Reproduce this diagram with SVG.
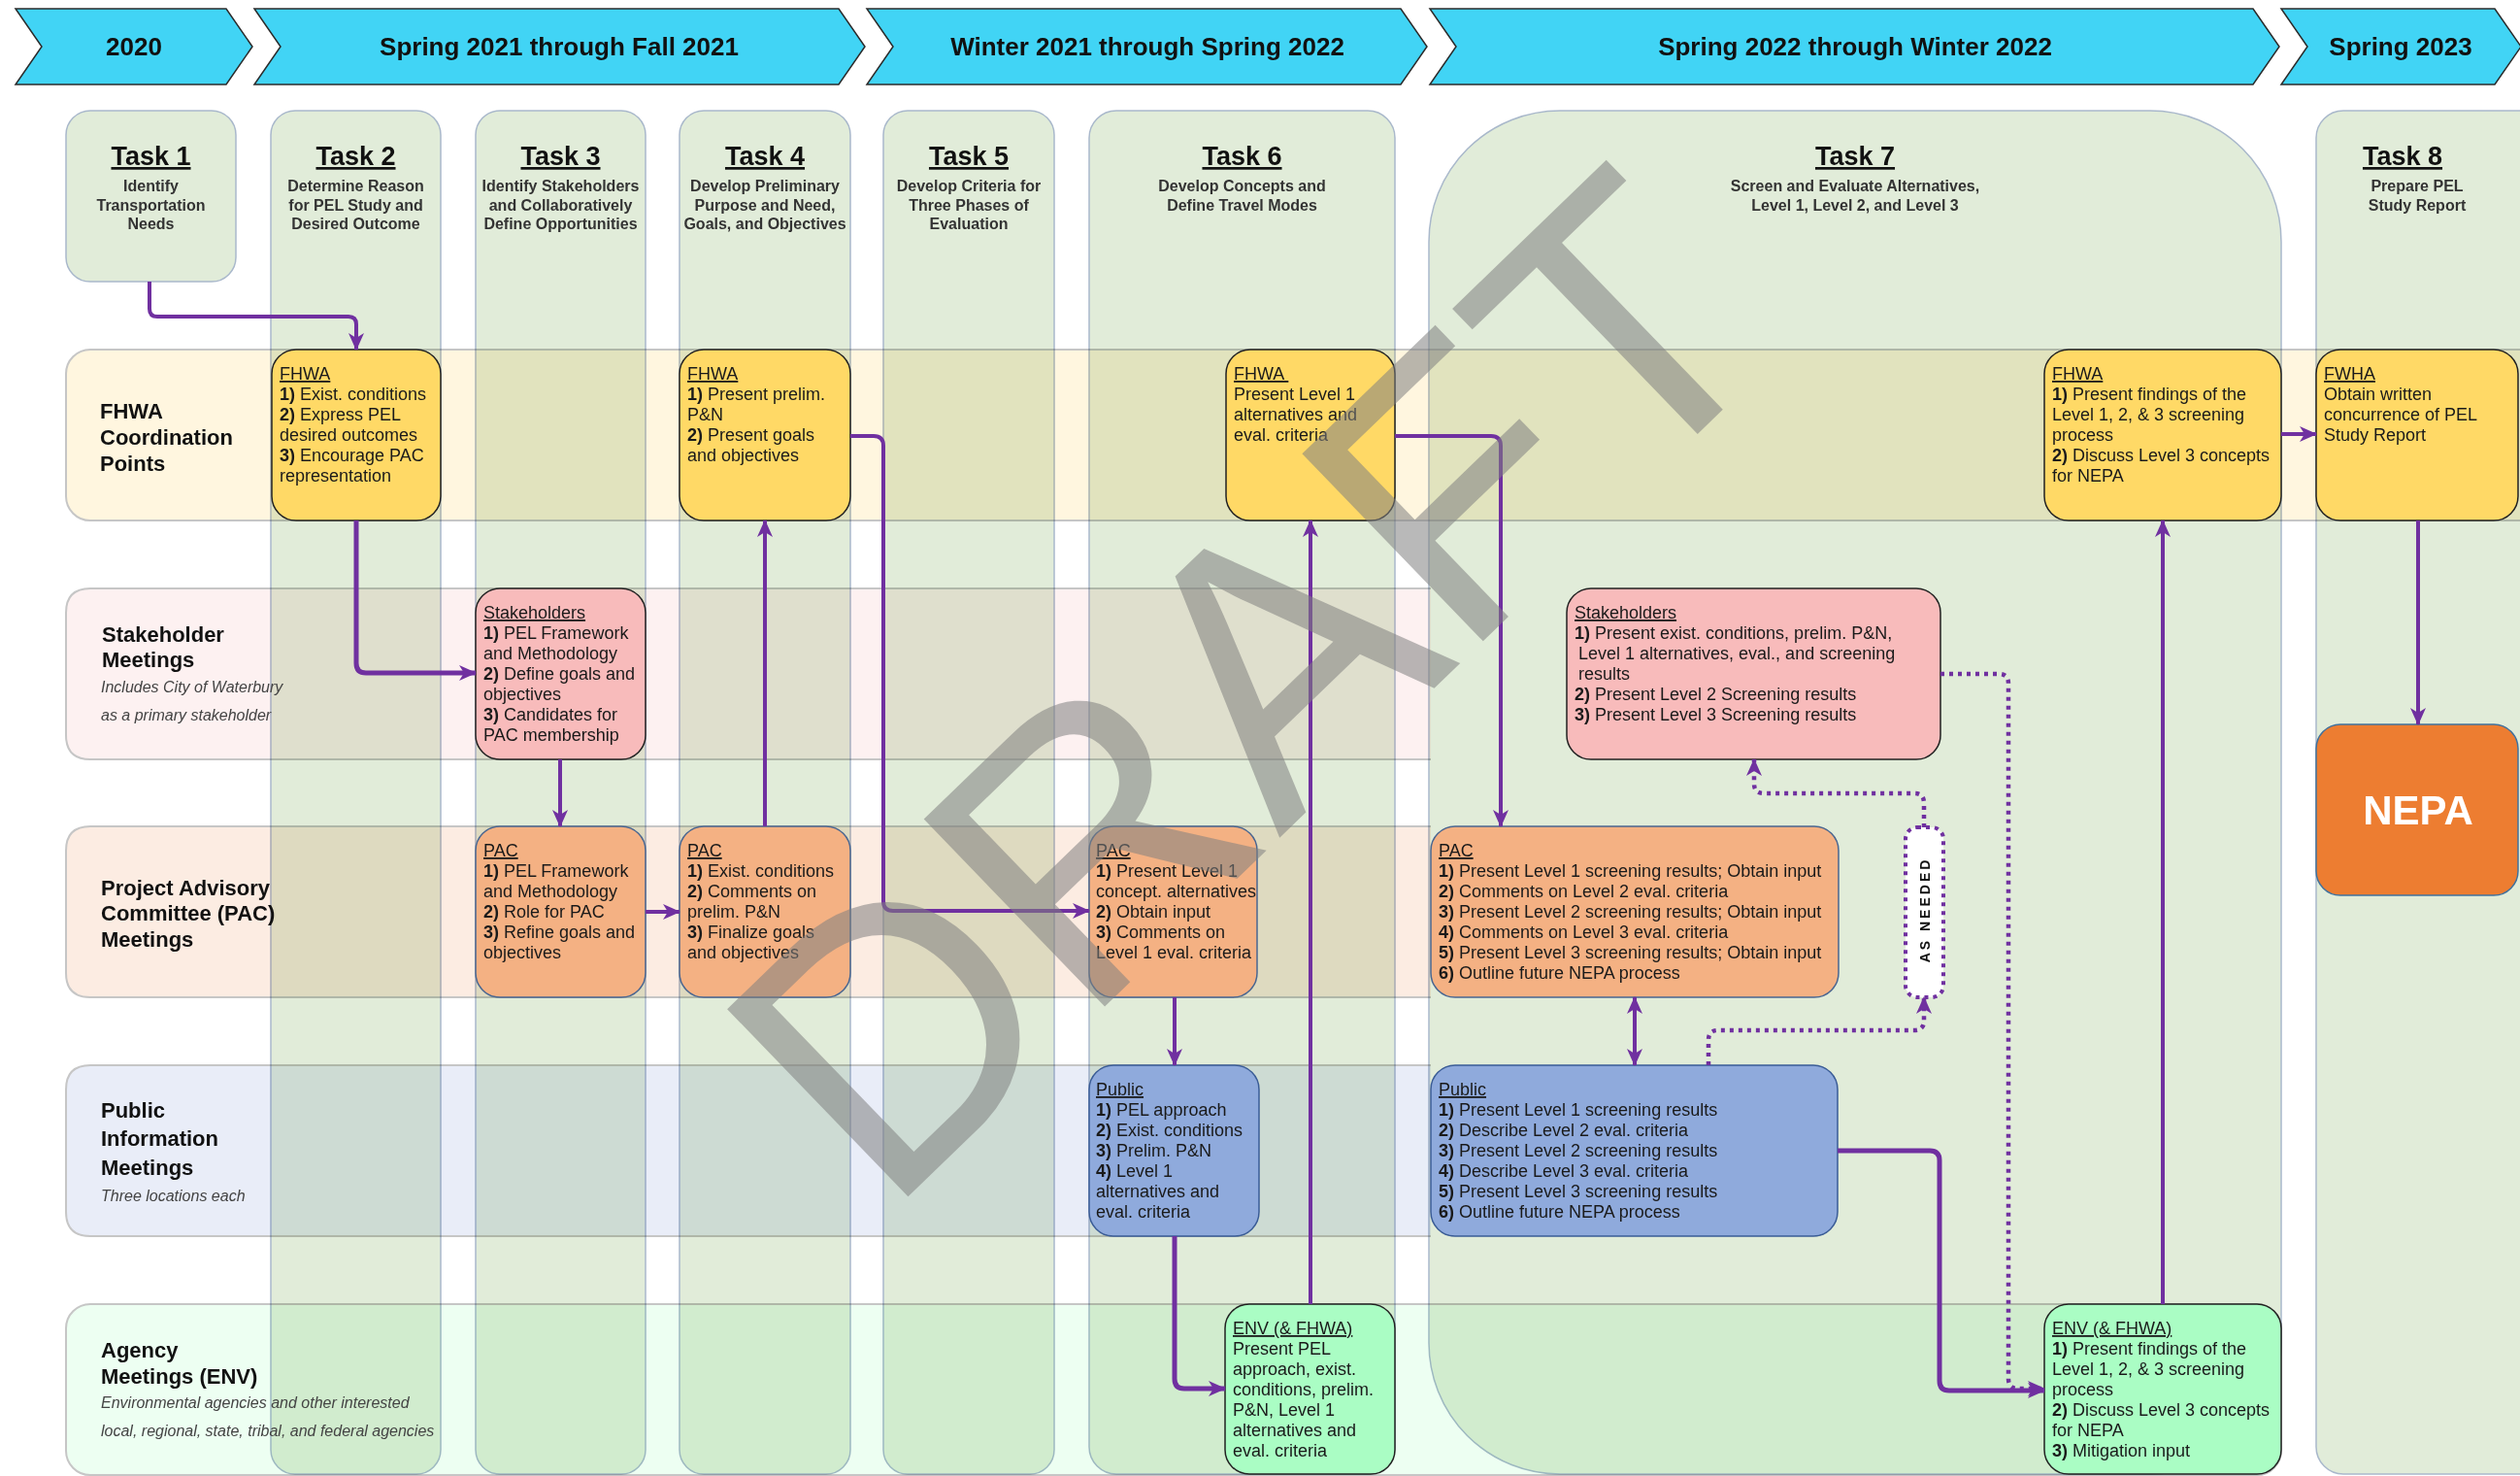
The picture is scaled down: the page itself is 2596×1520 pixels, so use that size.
<svg xmlns="http://www.w3.org/2000/svg" width="2596" height="1520" viewBox="0 0 2596 1520">
<style>
text{font-family:"Liberation Sans",Arial,sans-serif;}
.chev{fill:#41D4F5;stroke:#2b2b2b;stroke-width:1.5;}
.chevt{font-size:26px;font-weight:bold;fill:#111;text-anchor:middle;}
.row{stroke:#C6C6C6;stroke-width:2;}
.rowb{fill:none;stroke:#C6C6C6;stroke-width:2;}
.col{fill:#E1ECD9;stroke:#A9B8CB;stroke-width:1.5;}
.tt{font-size:27px;font-weight:bold;fill:#111;text-anchor:middle;text-decoration:underline;}
.ts{font-size:16px;font-weight:bold;fill:#333;text-anchor:middle;}
.rl{font-size:22px;font-weight:bold;fill:#111;}
.ri{font-size:16px;font-style:italic;fill:#444;}
.bt{font-size:18px;fill:#1a1a1a;}
.u{text-decoration:underline;}
.b{font-weight:bold;}
.fh{fill:#FFD966;stroke:#222;stroke-width:1.5;}
.sh{fill:#F8BBBB;stroke:#222;stroke-width:1.5;}
.pac{fill:#F4B183;stroke:#4A6690;stroke-width:1.5;}
.pub{fill:#8FAADC;stroke:#3A5C96;stroke-width:1.5;}
.env{fill:#AAFDC4;stroke:#222;stroke-width:1.5;}
.cn{fill:none;stroke:#7030A0;stroke-width:4;stroke-linejoin:round;}
.dt{fill:none;stroke:#7030A0;stroke-width:4.5;stroke-dasharray:4 5;}
</style>
<defs>
<marker id="ah" viewBox="0 0 18 16" refX="17" refY="8" markerWidth="18" markerHeight="16" markerUnits="userSpaceOnUse" orient="auto-start-reverse">
<path d="M0,0 L18,8 L0,16 L5,8 z" fill="#7030A0"/>
</marker>
</defs>
<rect width="2596" height="1520" fill="#FFFFFF"/>

<g id="timeline">
<polygon class="chev" points="16,9 233,9 260,48 233,87 16,87 43,48"/>
<text class="chevt" x="138" y="57">2020</text>
<polygon class="chev" points="262,9 864,9 891,48 864,87 262,87 289,48"/>
<text class="chevt" x="576" y="57">Spring 2021 through Fall 2021</text>
<polygon class="chev" points="893,9 1443,9 1470,48 1443,87 893,87 920,48"/>
<text class="chevt" x="1182" y="57">Winter 2021 through Spring 2022</text>
<polygon class="chev" points="1473,9 2321,9 2348,48 2321,87 1473,87 1500,48"/>
<text class="chevt" x="1911" y="57">Spring 2022 through Winter 2022</text>
<polygon class="chev" points="2350,9 2570,9 2597,48 2570,87 2350,87 2377,48"/>
<text class="chevt" x="2473" y="57">Spring 2023</text>
</g>

<g id="rows">
<rect class="row" x="68" y="360" width="2580" height="176" rx="25" fill="#FFF6DF"/>
<path d="M1474,606 H93 Q68,606 68,631 V757 Q68,782 93,782 H1474 Z" fill="#FDF1F1"/>
<path class="rowb" d="M1474,606 H93 Q68,606 68,631 V757 Q68,782 93,782 H1474"/>
<path d="M1474,851 H93 Q68,851 68,876 V1002 Q68,1027 93,1027 H1474 Z" fill="#FCECE2"/>
<path class="rowb" d="M1474,851 H93 Q68,851 68,876 V1002 Q68,1027 93,1027 H1474"/>
<path d="M1474,1097 H93 Q68,1097 68,1122 V1248 Q68,1273 93,1273 H1474 Z" fill="#E9EDF8"/>
<path class="rowb" d="M1474,1097 H93 Q68,1097 68,1122 V1248 Q68,1273 93,1273 H1474"/>
<rect class="row" x="68" y="1343" width="2282" height="176" rx="25" fill="#EDFFF2"/>
</g>

<g id="columns" style="mix-blend-mode:multiply">
<rect class="col" x="68" y="114" width="175" height="176" rx="25"/>
<rect class="col" x="279" y="114" width="175" height="1404" rx="25"/>
<rect class="col" x="490" y="114" width="175" height="1404" rx="25"/>
<rect class="col" x="700" y="114" width="176" height="1404" rx="25"/>
<rect class="col" x="910" y="114" width="176" height="1404" rx="25"/>
<rect class="col" x="1122" y="114" width="315" height="1404" rx="28"/>
<rect class="col" x="1472" y="114" width="878" height="1404" rx="135"/>
<rect class="col" x="2386" y="114" width="260" height="1404" rx="28"/>
</g>

<g id="row-labels">
<text class="rl" x="103"><tspan x="103" y="431">FHWA</tspan><tspan x="103" y="458">Coordination</tspan><tspan x="103" y="485">Points</tspan></text>
<text class="rl"><tspan x="105" y="661">Stakeholder</tspan><tspan x="105" y="687">Meetings</tspan></text>
<text class="ri"><tspan x="104" y="713">Includes City of Waterbury</tspan><tspan x="104" y="742">as a primary stakeholder</tspan></text>
<text class="rl"><tspan x="104" y="922">Project Advisory</tspan><tspan x="104" y="948">Committee (PAC)</tspan><tspan x="104" y="975">Meetings</tspan></text>
<text class="rl"><tspan x="104" y="1151">Public</tspan><tspan x="104" y="1180">Information</tspan><tspan x="104" y="1210">Meetings</tspan></text>
<text class="ri"><tspan x="104" y="1237">Three locations each</tspan></text>
<text class="rl"><tspan x="104" y="1398">Agency</tspan><tspan x="104" y="1425">Meetings (ENV)</tspan></text>
<text class="ri"><tspan x="104" y="1450">Environmental agencies and other interested</tspan><tspan x="104" y="1479">local, regional, state, tribal, and federal agencies</tspan></text>
</g>

<g id="task1"><text class="tt" x="155.5" y="170">Task 1</text><text class="ts"><tspan x="155.5" y="197">Identify</tspan><tspan x="155.5" y="216.5">Transportation</tspan><tspan x="155.5" y="236">Needs</tspan></text></g>
<g id="task2"><text class="tt" x="366.5" y="170">Task 2</text><text class="ts"><tspan x="366.5" y="197">Determine Reason</tspan><tspan x="366.5" y="216.5">for PEL Study and</tspan><tspan x="366.5" y="236">Desired Outcome</tspan></text></g>
<g id="task3"><text class="tt" x="577.5" y="170">Task 3</text><text class="ts"><tspan x="577.5" y="197">Identify Stakeholders</tspan><tspan x="577.5" y="216.5">and Collaboratively</tspan><tspan x="577.5" y="236">Define Opportunities</tspan></text></g>
<g id="task4"><text class="tt" x="788" y="170">Task 4</text><text class="ts"><tspan x="788" y="197">Develop Preliminary</tspan><tspan x="788" y="216.5">Purpose and Need,</tspan><tspan x="788" y="236">Goals, and Objectives</tspan></text></g>
<g id="task5"><text class="tt" x="998" y="170">Task 5</text><text class="ts"><tspan x="998" y="197">Develop Criteria for</tspan><tspan x="998" y="216.5">Three Phases of</tspan><tspan x="998" y="236">Evaluation</tspan></text></g>
<g id="task6"><text class="tt" x="1279.5" y="170">Task 6</text><text class="ts"><tspan x="1279.5" y="197">Develop Concepts and</tspan><tspan x="1279.5" y="216.5">Define Travel Modes</tspan></text></g>
<g id="task7"><text class="tt" x="1911" y="170">Task 7</text><text class="ts"><tspan x="1911" y="197">Screen and Evaluate Alternatives,</tspan><tspan x="1911" y="216.5">Level 1, Level 2, and Level 3</tspan></text></g>
<g id="task8"><text class="tt" x="2475" y="170">Task 8</text><text class="ts"><tspan x="2490" y="197">Prepare PEL</tspan><tspan x="2490" y="216.5">Study Report</tspan></text></g>

<g id="fhwa-t2"><rect class="fh" x="280" y="360" width="174" height="176" rx="25"/>
<text class="bt"><tspan class="u" x="288" y="391">FHWA</tspan><tspan x="288" dy="21"><tspan class="b">1)</tspan> Exist. conditions</tspan><tspan x="288" dy="21"><tspan class="b">2)</tspan> Express PEL</tspan><tspan x="288" dy="21">desired outcomes</tspan><tspan x="288" dy="21"><tspan class="b">3)</tspan> Encourage PAC</tspan><tspan x="288" dy="21">representation</tspan></text></g>

<g id="fhwa-t4"><rect class="fh" x="700" y="360" width="176" height="176" rx="25"/>
<text class="bt"><tspan class="u" x="708" y="391">FHWA</tspan><tspan x="708" dy="21"><tspan class="b">1)</tspan> Present prelim.</tspan><tspan x="708" dy="21">P&amp;N</tspan><tspan x="708" dy="21"><tspan class="b">2)</tspan> Present goals</tspan><tspan x="708" dy="21">and objectives</tspan></text></g>

<g id="fhwa-t6"><rect class="fh" x="1263" y="360" width="174" height="176" rx="25"/>
<text class="bt"><tspan class="u" x="1271" y="391">FHWA </tspan><tspan x="1271" dy="21">Present Level 1</tspan><tspan x="1271" dy="21">alternatives and</tspan><tspan x="1271" dy="21">eval. criteria</tspan></text></g>

<g id="fhwa-t7"><rect class="fh" x="2106" y="360" width="244" height="176" rx="25"/>
<text class="bt"><tspan class="u" x="2114" y="391">FHWA</tspan><tspan x="2114" dy="21"><tspan class="b">1)</tspan> Present findings of the</tspan><tspan x="2114" dy="21">Level 1, 2, &amp; 3 screening</tspan><tspan x="2114" dy="21">process</tspan><tspan x="2114" dy="21"><tspan class="b">2)</tspan> Discuss Level 3 concepts</tspan><tspan x="2114" dy="21">for NEPA</tspan></text></g>

<g id="fwha-t8"><rect class="fh" x="2386" y="360" width="208" height="176" rx="25"/>
<text class="bt"><tspan class="u" x="2394" y="391">FWHA</tspan><tspan x="2394" dy="21">Obtain written</tspan><tspan x="2394" dy="21">concurrence of PEL</tspan><tspan x="2394" dy="21">Study Report</tspan></text></g>

<g id="nepa"><rect x="2386" y="746" width="208" height="176" rx="25" fill="#ED7D31" stroke="#41719C" stroke-width="1.5"/>
<text x="2491" y="849" font-size="42" font-weight="bold" fill="#FFFFFF" text-anchor="middle">NEPA</text></g>

<g id="stake-t3"><rect class="sh" x="490" y="606" width="175" height="176" rx="25"/>
<text class="bt"><tspan class="u" x="498" y="637">Stakeholders</tspan><tspan x="498" dy="21"><tspan class="b">1)</tspan> PEL Framework</tspan><tspan x="498" dy="21">and Methodology</tspan><tspan x="498" dy="21"><tspan class="b">2)</tspan> Define goals and</tspan><tspan x="498" dy="21">objectives</tspan><tspan x="498" dy="21"><tspan class="b">3)</tspan> Candidates for</tspan><tspan x="498" dy="21">PAC membership</tspan></text></g>

<g id="stake-t7"><rect class="sh" x="1614" y="606" width="385" height="176" rx="25"/>
<text class="bt"><tspan class="u" x="1622" y="637">Stakeholders</tspan><tspan x="1622" dy="21"><tspan class="b">1)</tspan> Present exist. conditions, prelim. P&amp;N,</tspan><tspan x="1626" dy="21">Level 1 alternatives, eval., and screening</tspan><tspan x="1626" dy="21">results</tspan><tspan x="1622" dy="21"><tspan class="b">2)</tspan> Present Level 2 Screening results</tspan><tspan x="1622" dy="21"><tspan class="b">3)</tspan> Present Level 3 Screening results</tspan></text></g>

<g id="pac-t3"><rect class="pac" x="490" y="851" width="175" height="176" rx="25"/>
<text class="bt"><tspan class="u" x="498" y="882">PAC</tspan><tspan x="498" dy="21"><tspan class="b">1)</tspan> PEL Framework</tspan><tspan x="498" dy="21">and Methodology</tspan><tspan x="498" dy="21"><tspan class="b">2)</tspan> Role for PAC</tspan><tspan x="498" dy="21"><tspan class="b">3)</tspan> Refine goals and</tspan><tspan x="498" dy="21">objectives</tspan></text></g>

<g id="pac-t4"><rect class="pac" x="700" y="851" width="176" height="176" rx="25"/>
<text class="bt"><tspan class="u" x="708" y="882">PAC</tspan><tspan x="708" dy="21"><tspan class="b">1)</tspan> Exist. conditions</tspan><tspan x="708" dy="21"><tspan class="b">2)</tspan> Comments on</tspan><tspan x="708" dy="21">prelim. P&amp;N</tspan><tspan x="708" dy="21"><tspan class="b">3)</tspan> Finalize goals</tspan><tspan x="708" dy="21">and objectives</tspan></text></g>

<g id="pac-t6"><rect class="pac" x="1122" y="851" width="173" height="176" rx="25"/>
<text class="bt"><tspan class="u" x="1129" y="882">PAC</tspan><tspan x="1129" dy="21"><tspan class="b">1)</tspan> Present Level 1</tspan><tspan x="1129" dy="21">concept. alternatives</tspan><tspan x="1129" dy="21"><tspan class="b">2)</tspan> Obtain input</tspan><tspan x="1129" dy="21"><tspan class="b">3)</tspan> Comments on</tspan><tspan x="1129" dy="21">Level 1 eval. criteria</tspan></text></g>

<g id="pac-t7"><rect class="pac" x="1474" y="851" width="420" height="176" rx="25"/>
<text class="bt"><tspan class="u" x="1482" y="882">PAC</tspan><tspan x="1482" dy="21"><tspan class="b">1)</tspan> Present Level 1 screening results; Obtain input</tspan><tspan x="1482" dy="21"><tspan class="b">2)</tspan> Comments on Level 2 eval. criteria</tspan><tspan x="1482" dy="21"><tspan class="b">3)</tspan> Present Level 2 screening results; Obtain input</tspan><tspan x="1482" dy="21"><tspan class="b">4)</tspan> Comments on Level 3 eval. criteria</tspan><tspan x="1482" dy="21"><tspan class="b">5)</tspan> Present Level 3 screening results; Obtain input</tspan><tspan x="1482" dy="21"><tspan class="b">6)</tspan> Outline future NEPA process</tspan></text></g>

<g id="as-needed"><rect x="1963" y="852" width="39" height="175" rx="12" fill="#FFFFFF" stroke="#7030A0" stroke-width="4" stroke-dasharray="4 5"/>
<text transform="translate(1988,937) rotate(-90)" text-anchor="middle" font-size="14" font-weight="bold" letter-spacing="3" fill="#111">AS NEEDED</text></g>

<g id="pub-t6"><rect class="pub" x="1122" y="1097" width="175" height="176" rx="25"/>
<text class="bt"><tspan class="u" x="1129" y="1128">Public</tspan><tspan x="1129" dy="21"><tspan class="b">1)</tspan> PEL approach</tspan><tspan x="1129" dy="21"><tspan class="b">2)</tspan> Exist. conditions</tspan><tspan x="1129" dy="21"><tspan class="b">3)</tspan> Prelim. P&amp;N</tspan><tspan x="1129" dy="21"><tspan class="b">4)</tspan> Level 1</tspan><tspan x="1129" dy="21">alternatives and</tspan><tspan x="1129" dy="21">eval. criteria</tspan></text></g>

<g id="pub-t7"><rect class="pub" x="1474" y="1097" width="419" height="176" rx="25"/>
<text class="bt"><tspan class="u" x="1482" y="1128">Public</tspan><tspan x="1482" dy="21"><tspan class="b">1)</tspan> Present Level 1 screening results</tspan><tspan x="1482" dy="21"><tspan class="b">2)</tspan> Describe Level 2 eval. criteria</tspan><tspan x="1482" dy="21"><tspan class="b">3)</tspan> Present Level 2 screening results</tspan><tspan x="1482" dy="21"><tspan class="b">4)</tspan> Describe Level 3 eval. criteria</tspan><tspan x="1482" dy="21"><tspan class="b">5)</tspan> Present Level 3 screening results</tspan><tspan x="1482" dy="21"><tspan class="b">6)</tspan> Outline future NEPA process</tspan></text></g>

<g id="env-t6"><rect class="env" x="1262" y="1343" width="175" height="175" rx="25"/>
<text class="bt"><tspan class="u" x="1270" y="1374">ENV (&amp; FHWA)</tspan><tspan x="1270" dy="21">Present PEL</tspan><tspan x="1270" dy="21">approach, exist.</tspan><tspan x="1270" dy="21">conditions, prelim.</tspan><tspan x="1270" dy="21">P&amp;N, Level 1</tspan><tspan x="1270" dy="21">alternatives and</tspan><tspan x="1270" dy="21">eval. criteria</tspan></text></g>

<g id="env-t7"><rect class="env" x="2106" y="1343" width="244" height="175" rx="25"/>
<text class="bt"><tspan class="u" x="2114" y="1374">ENV (&amp; FHWA)</tspan><tspan x="2114" dy="21"><tspan class="b">1)</tspan>  Present findings of the</tspan><tspan x="2114" dy="21">Level 1, 2, &amp; 3 screening</tspan><tspan x="2114" dy="21">process</tspan><tspan x="2114" dy="21"><tspan class="b">2)</tspan> Discuss Level 3 concepts</tspan><tspan x="2114" dy="21">for NEPA</tspan><tspan x="2114" dy="21"><tspan class="b">3)</tspan> Mitigation input</tspan></text></g>

<g id="connectors">
<path class="cn" marker-end="url(#ah)" d="M154,290 V318 Q154,326 162,326 H359 Q367,326 367,334 V360"/>
<path class="cn" marker-end="url(#ah)" style="stroke-width:5" d="M367,536 V683 Q367,693 377,693 H490"/>
<path class="cn" marker-end="url(#ah)" d="M577,782 V851"/>
<path class="cn" marker-end="url(#ah)" d="M665,939 H700"/>
<path class="cn" marker-end="url(#ah)" d="M788,851 V536"/>
<path class="cn" marker-end="url(#ah)" d="M876,449 H900 Q910,449 910,459 V928 Q910,938 920,938 H1122"/>
<path class="cn" marker-end="url(#ah)" d="M1210,1027 V1097"/>
<path class="cn" marker-end="url(#ah)" d="M1350,1343 V536"/>
<path class="cn" marker-end="url(#ah)" style="stroke-width:5" d="M1210,1273 V1420 Q1210,1430 1220,1430 H1262"/>
<path class="cn" marker-end="url(#ah)" d="M1437,449 H1536 Q1546,449 1546,459 V851"/>
<path class="cn" marker-start="url(#ah)" marker-end="url(#ah)" d="M1684,1027 V1097"/>
<path class="dt" marker-end="url(#ah)" d="M1760,1097 V1071 Q1760,1061 1770,1061 H1972 Q1982,1061 1982,1051 V1027"/>
<path class="dt" marker-end="url(#ah)" d="M1982,852 V827 Q1982,817 1972,817 H1817 Q1807,817 1807,807 V782"/>
<path class="dt" marker-end="url(#ah)" d="M1999,694 H2059 Q2069,694 2069,704 V1420 Q2069,1430 2079,1430 H2106"/>
<path class="cn" marker-end="url(#ah)" style="stroke-width:5" d="M1893,1185 H1988 Q1998,1185 1998,1195 V1422 Q1998,1432 2008,1432 H2106"/>
<path class="cn" marker-end="url(#ah)" d="M2228,1343 V536"/>
<path class="cn" marker-end="url(#ah)" d="M2350,447 H2386"/>
<path class="cn" marker-end="url(#ah)" d="M2491,536 V746"/>
</g>

<g id="watermark">
<text transform="translate(1380,803) rotate(-44)" text-anchor="middle" font-size="390" fill="#7F7F7F" fill-opacity="0.55">DRAFT</text>
</g>
</svg>
